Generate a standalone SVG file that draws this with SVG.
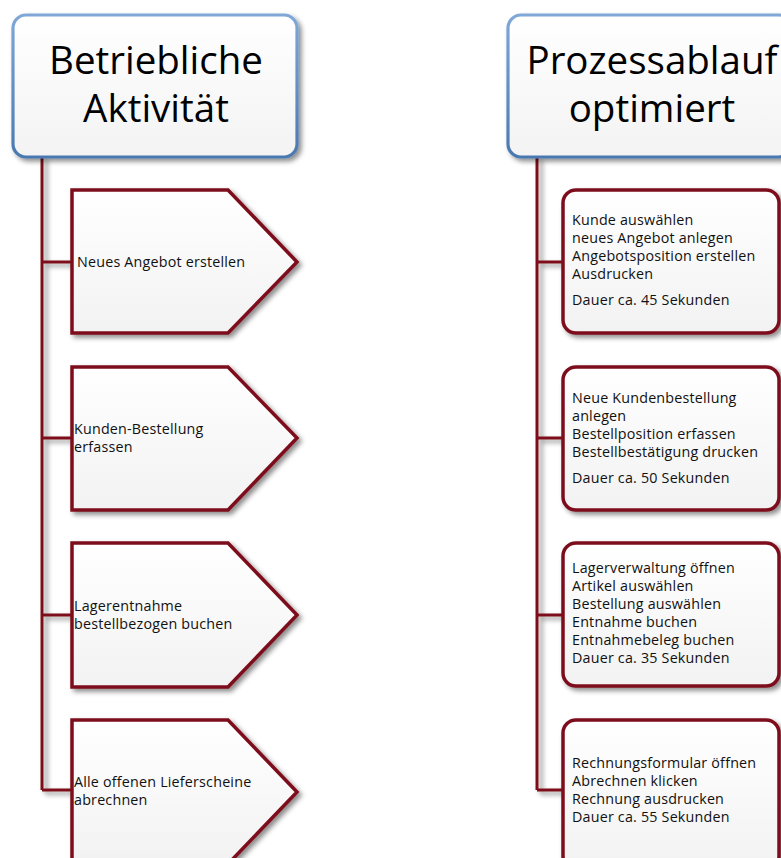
<svg xmlns="http://www.w3.org/2000/svg" width="781" height="858" viewBox="0 0 781 858">
<defs>
<filter id="sh" x="-20%" y="-20%" width="150%" height="150%">
<feDropShadow dx="3" dy="3" stdDeviation="2.5" flood-color="#000" flood-opacity="0.45"/>
</filter>
<filter id="lsh" x="-200%" y="-5%" width="500%" height="110%">
<feDropShadow dx="4" dy="3" stdDeviation="2.5" flood-color="#000" flood-opacity="0.45"/>
</filter>
<linearGradient id="hdrFill" x1="0" y1="0" x2="0" y2="1">
<stop offset="0" stop-color="#ffffff"/><stop offset="1" stop-color="#f3f3f3"/>
</linearGradient>
<linearGradient id="hdrStroke" x1="0" y1="0" x2="0" y2="1">
<stop offset="0" stop-color="#7fa8d8"/><stop offset="1" stop-color="#4a78b0"/>
</linearGradient>
<linearGradient id="boxFill" x1="0" y1="0" x2="0" y2="1">
<stop offset="0" stop-color="#ffffff"/><stop offset="1" stop-color="#f2f2f2"/>
</linearGradient>
</defs>
<style>
.hdr{fill:url(#hdrFill);stroke:url(#hdrStroke);stroke-width:3.2;filter:url(#sh)}
.pent,.box{fill:url(#boxFill);stroke:#7d0f1c;stroke-width:3.5;stroke-linejoin:miter;filter:url(#sh)}
.con{fill:none;stroke:#7d0f1c;stroke-width:3;filter:url(#lsh)}
.ht{font-family:"Open Sans","Noto Sans",sans-serif;font-size:38.5px;fill:#000;text-anchor:middle}
.t{font-family:"Open Sans","Noto Sans",sans-serif;font-size:14.3px;letter-spacing:0.2px;fill:#111}
</style>
<rect width="781" height="858" fill="#ffffff"/>
<g id="connectors">
<path class="con" d="M42,157 V790 M42,262 H72 M42,438 H72 M42,615 H72 M42,790 H72"/>
<path class="con" d="M537,157 V790 M537,262 H563 M537,438 H563 M537,615 H563 M537,790 H563"/>
</g>
<g id="hdr-left">
<rect class="hdr" x="13" y="15" width="284" height="142" rx="13"/>
<text class="ht" x="156" y="74">Betriebliche</text>
<text class="ht" x="156" y="122">Aktivität</text>
</g>
<g id="hdr-right">
<rect class="hdr" x="508" y="15" width="284" height="142" rx="13"/>
<text class="ht" x="652" y="74">Prozessablauf</text>
<text class="ht" x="652" y="122">optimiert</text>
</g>
<g id="act1">
<path class="pent" d="M72,190 H228 L297,262 L228,333 H72 Z"/>
<text class="t" x="77" y="267">Neues Angebot erstellen</text>
</g>
<g id="act2">
<path class="pent" d="M72,367 H228 L297,438 L228,510 H72 Z"/>
<text class="t" x="74" y="434">Kunden-Bestellung</text>
<text class="t" x="74" y="452">erfassen</text>
</g>
<g id="act3">
<path class="pent" d="M72,543 H228 L297,615 L228,687 H72 Z"/>
<text class="t" x="74" y="611">Lagerentnahme</text>
<text class="t" x="74" y="629">bestellbezogen buchen</text>
</g>
<g id="act4">
<path class="pent" d="M72,720 H228 L297,792 L228,864 H72 Z"/>
<text class="t" x="74" y="787">Alle offenen Lieferscheine</text>
<text class="t" x="74" y="805">abrechnen</text>
</g>
<g id="proc1">
<rect class="box" x="563" y="190" width="216" height="143" rx="13"/>
<text class="t" x="572" y="225">Kunde auswählen</text>
<text class="t" x="572" y="243">neues Angebot anlegen</text>
<text class="t" x="572" y="261">Angebotsposition erstellen</text>
<text class="t" x="572" y="279">Ausdrucken</text>
<text class="t" x="572" y="305">Dauer ca. 45 Sekunden</text>
</g>
<g id="proc2">
<rect class="box" x="563" y="367" width="216" height="143" rx="13"/>
<text class="t" x="572" y="403">Neue Kundenbestellung</text>
<text class="t" x="572" y="421">anlegen</text>
<text class="t" x="572" y="439">Bestellposition erfassen</text>
<text class="t" x="572" y="457">Bestellbestätigung drucken</text>
<text class="t" x="572" y="483">Dauer ca. 50 Sekunden</text>
</g>
<g id="proc3">
<rect class="box" x="563" y="543" width="216" height="143" rx="13"/>
<text class="t" x="572" y="573">Lagerverwaltung öffnen</text>
<text class="t" x="572" y="591">Artikel auswählen</text>
<text class="t" x="572" y="609">Bestellung auswählen</text>
<text class="t" x="572" y="627">Entnahme buchen</text>
<text class="t" x="572" y="645">Entnahmebeleg buchen</text>
<text class="t" x="572" y="663">Dauer ca. 35 Sekunden</text>
</g>
<g id="proc4">
<rect class="box" x="563" y="720" width="216" height="150" rx="13"/>
<text class="t" x="572" y="768">Rechnungsformular öffnen</text>
<text class="t" x="572" y="786">Abrechnen klicken</text>
<text class="t" x="572" y="804">Rechnung ausdrucken</text>
<text class="t" x="572" y="822">Dauer ca. 55 Sekunden</text>
</g>
</svg>
